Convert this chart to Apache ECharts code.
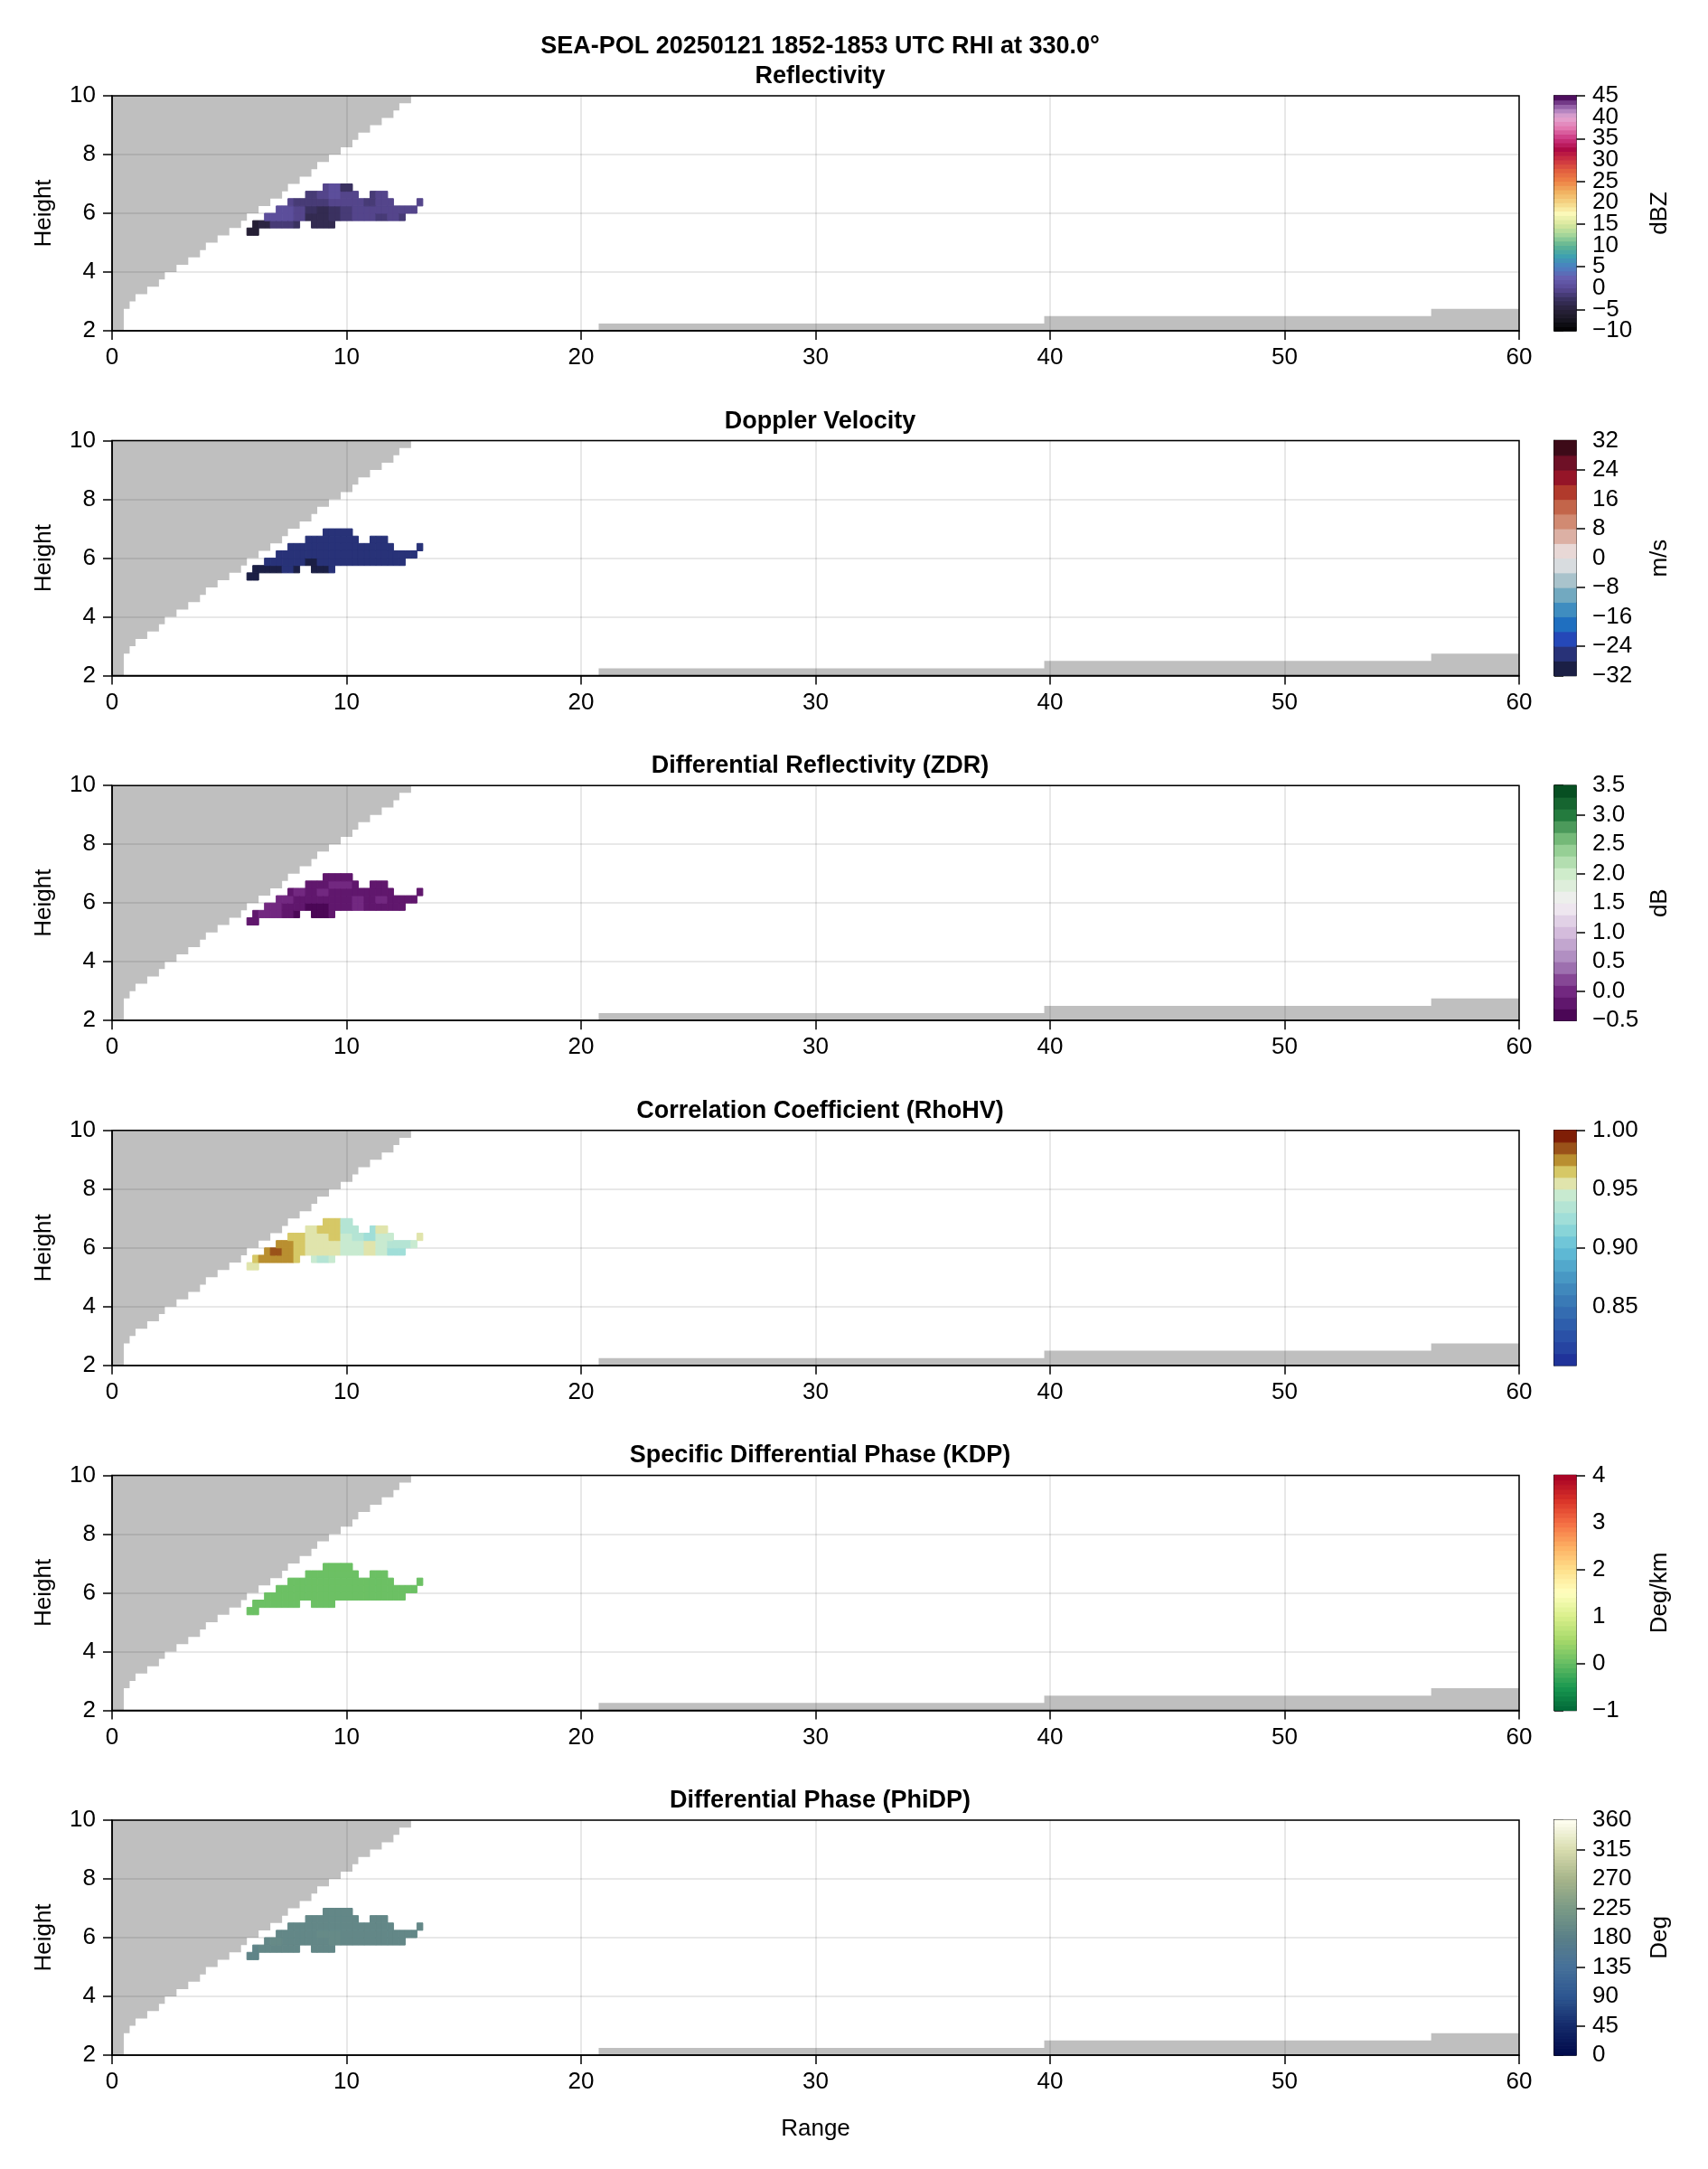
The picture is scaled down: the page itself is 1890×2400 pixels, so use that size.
<!DOCTYPE html>
<html>
<head>
<meta charset="utf-8">
<title>SEA-POL RHI 330.0</title>
<script src="https://cdn.jsdelivr.net/npm/echarts@6/dist/echarts.min.js"></script>
<style>
  html, body { margin: 0; padding: 0; background: #fff; }
  #main { width: 1890px; height: 2400px; }
</style>
</head>
<body>
<div id="main"></div>
<script>
// ---- text ----
var mainTitle = 'SEA-POL 20250121 1852-1853 UTC RHI at 330.0\u00b0';
var panelTitles = ['Reflectivity', 'Doppler Velocity', 'Differential Reflectivity (ZDR)',
    'Correlation Coefficient (RhoHV)', 'Specific Differential Phase (KDP)', 'Differential Phase (PhiDP)'];
var panelUnits = ['dBZ', 'm/s', 'dB', '', 'Deg/km', 'Deg'];

// ---- axes ----
var rangeMin = 0, rangeMax = 60, rangeStep = 10;
var heightMin = 2, heightMax = 10, heightStep = 2;
var cellSize = 0.25; // grid spacing of the gridded RHI (km)

// grey area above the top beam: per 0.25 km height row, range where the grey ends
var wedgeRowBottom = [2.0, 2.25, 2.5, 2.75, 3.0, 3.25, 3.5, 3.75, 4.0, 4.25, 4.5, 4.75, 5.0, 5.25, 5.5, 5.75,
    6.0, 6.25, 6.5, 6.75, 7.0, 7.25, 7.5, 7.75, 8.0, 8.25, 8.5, 8.75, 9.0, 9.25, 9.5, 9.75];
var wedgeEdge = [0.5, 0.5, 0.5, 0.75, 1.0, 1.5, 2.0, 2.25, 2.75, 3.25, 3.75, 4.0, 4.5, 5.0, 5.5, 5.75,
    6.25, 6.75, 7.25, 7.5, 8.0, 8.5, 8.75, 9.25, 9.75, 10.25, 10.5, 11.0, 11.5, 12.0, 12.25, 12.75];

// grey area below the lowest beam far out
var floorX = [20.75, 39.75, 56.25, 60];
var floorTop = [2.25, 2.5, 2.75];

// echo outline: per 0.25 km range column, bottom and top height
var blobColLeft = [5.75, 6.0, 6.25, 6.5, 6.75, 7.0, 7.25, 7.5, 7.75, 8.0, 8.25, 8.5, 8.75, 9.0, 9.25,
    9.5, 9.75, 10.0, 10.25, 10.5, 10.75, 11.0, 11.25, 11.5, 11.75, 12.0, 12.25, 12.5, 12.75, 13.0];
var blobBottom = [5.25, 5.25, 5.5, 5.5, 5.5, 5.5, 5.5, 5.5, 5.5, 5.75, 5.75, 5.5, 5.5, 5.5, 5.5,
    5.75, 5.75, 5.75, 5.75, 5.75, 5.75, 5.75, 5.75, 5.75, 5.75, 5.75, 5.75, 6.0, 6.0, 6.25];
var blobTop = [5.5, 5.75, 5.75, 6.0, 6.0, 6.25, 6.25, 6.5, 6.5, 6.5, 6.75, 6.75, 6.75, 7.0, 7.0,
    7.0, 7.0, 7.0, 6.75, 6.5, 6.5, 6.75, 6.75, 6.75, 6.5, 6.25, 6.25, 6.25, 6.25, 6.5];
var blobRowBottom = [5.25, 5.5, 5.75, 6.0, 6.25, 6.5, 6.75];

// field values: rows bottom->top (blobRowBottom), columns every 0.5 km from 5.75 km
var dbzGrid = [
    [-5.5, -5.5, -4.5, -3.5, -3.5, -3.5, -3.5, -3.5, -2.5, -1.5, -1.5, -1.5, -1.5, -1.5, -1.5],
    [-5.5, -4.5, -1.5, -1.5, -2.5, -3.5, -3.5, -3.5, -1.5, -1.5, -1.5, -1.5, -1.5, -1.5, -1.5],
    [-4.5, 0.5, 0.5, 0.5, -0.5, -3.5, -3.5, -2.5, -1.5, -0.5, -0.5, -1.5, -0.5, -1.5, -1.5],
    [-3.5, -0.5, 0.5, 0.5, -0.5, -2.5, -3.5, -2.5, -1.5, -0.5, -0.5, -0.5, -0.5, -0.5, -0.5],
    [-2.5, -1.5, -1.5, -0.5, -1.5, -1.5, -1.5, -0.5, -0.5, -0.5, -1.5, -0.5, -0.5, -0.5, -0.5],
    [-1.5, -1.5, -1.5, -1.5, -1.5, -1.5, -0.5, 0.5, -0.5, -0.5, -1.5, -0.5, -1.5, -1.5, -0.5],
    [-1.5, -1.5, -1.5, -1.5, -1.5, -1.5, -0.5, 0.5, -2.5, -1.5, -1.5, -1.5, -1.5, -1.5, -1.5]
];
var velGrid = [
    [-30, -30, -30, -30, -30, -30, -30, -30, -26, -26, -26, -26, -26, -26, -26],
    [-30, -30, -30, -26, -30, -30, -30, -26, -26, -26, -26, -26, -26, -26, -26],
    [-26, -26, -26, -26, -26, -30, -26, -26, -26, -26, -26, -26, -26, -26, -26],
    [-26, -26, -26, -26, -26, -26, -26, -26, -26, -26, -26, -26, -26, -26, -26],
    [-26, -26, -26, -26, -26, -26, -26, -26, -26, -26, -26, -26, -26, -26, -26],
    [-26, -26, -26, -26, -26, -26, -26, -26, -26, -26, -26, -26, -26, -26, -26],
    [-26, -26, -26, -26, -26, -26, -26, -26, -26, -26, -26, -26, -26, -26, -26]
];
var zdrGrid = [
    [-0.2, -0.2, -0.2, -0.2, -0.2, -0.2, -0.2, -0.2, -0.2, -0.2, -0.2, -0.2, -0.2, -0.2, -0.2],
    [-0.2, 0.0, 0.0, -0.2, -0.4, -0.4, -0.4, -0.2, -0.2, -0.2, -0.2, -0.2, -0.2, -0.2, -0.2],
    [-0.2, 0.0, 0.0, -0.2, -0.2, -0.4, -0.4, -0.2, -0.2, 0.0, -0.2, -0.2, -0.2, -0.2, -0.2],
    [-0.2, -0.2, 0.0, 0.0, -0.2, -0.2, -0.2, -0.2, -0.2, 0.0, -0.2, 0.0, -0.2, -0.2, -0.2],
    [-0.2, -0.2, -0.2, -0.2, 0.0, -0.2, 0.0, -0.2, -0.2, -0.2, -0.2, -0.2, -0.2, -0.2, -0.2],
    [-0.2, -0.2, -0.2, -0.2, -0.2, -0.2, -0.2, 0.0, 0.0, -0.2, -0.2, -0.2, -0.2, -0.2, -0.2],
    [-0.2, -0.2, -0.2, -0.2, -0.2, -0.2, -0.2, -0.2, -0.2, -0.2, -0.2, -0.2, -0.2, -0.2, -0.2]
];
var rhoGrid = [
    [0.955, 0.965, 0.965, 0.965, 0.955, 0.945, 0.935, 0.945, 0.945, 0.945, 0.945, 0.945, 0.935, 0.935, 0.945],
    [0.965, 0.975, 0.975, 0.975, 0.965, 0.945, 0.935, 0.945, 0.945, 0.945, 0.945, 0.945, 0.935, 0.925, 0.945],
    [0.965, 0.975, 0.985, 0.975, 0.965, 0.955, 0.955, 0.955, 0.945, 0.945, 0.955, 0.945, 0.925, 0.925, 0.945],
    [0.955, 0.975, 0.975, 0.975, 0.965, 0.955, 0.955, 0.955, 0.945, 0.945, 0.955, 0.945, 0.935, 0.935, 0.945],
    [0.955, 0.965, 0.965, 0.965, 0.965, 0.955, 0.955, 0.965, 0.945, 0.935, 0.925, 0.945, 0.945, 0.945, 0.955],
    [0.955, 0.955, 0.955, 0.955, 0.955, 0.955, 0.965, 0.965, 0.935, 0.935, 0.925, 0.955, 0.945, 0.945, 0.955],
    [0.955, 0.955, 0.955, 0.955, 0.955, 0.955, 0.965, 0.965, 0.935, 0.945, 0.945, 0.945, 0.945, 0.945, 0.945]
];
var kdpGrid = [
    [0.05, 0.05, 0.05, 0.05, 0.05, 0.05, 0.05, 0.05, 0.05, 0.05, 0.05, 0.05, 0.05, 0.05, 0.05],
    [0.05, 0.05, 0.05, 0.05, 0.05, 0.05, 0.05, 0.05, 0.05, 0.05, 0.05, 0.05, 0.05, 0.05, 0.05],
    [0.05, 0.05, 0.05, 0.05, 0.05, 0.05, 0.05, 0.05, 0.05, 0.05, 0.05, 0.05, 0.05, 0.05, 0.05],
    [0.05, 0.05, 0.05, 0.05, 0.05, 0.05, 0.05, 0.05, 0.05, 0.05, 0.05, 0.05, 0.05, 0.05, 0.05],
    [0.05, 0.05, 0.05, 0.05, 0.05, 0.05, 0.05, 0.05, 0.05, 0.05, 0.05, 0.05, 0.05, 0.05, 0.05],
    [0.05, 0.05, 0.05, 0.05, 0.05, 0.05, 0.05, 0.05, 0.05, 0.05, 0.05, 0.05, 0.05, 0.05, 0.05],
    [0.05, 0.05, 0.05, 0.05, 0.05, 0.05, 0.05, 0.05, 0.05, 0.05, 0.05, 0.05, 0.05, 0.05, 0.05]
];
var phiGrid = [
    [187.5, 187.5, 192.5, 192.5, 192.5, 187.5, 187.5, 192.5, 192.5, 192.5, 192.5, 192.5, 192.5, 192.5, 192.5],
    [187.5, 192.5, 192.5, 192.5, 192.5, 192.5, 192.5, 192.5, 192.5, 192.5, 192.5, 192.5, 192.5, 192.5, 192.5],
    [192.5, 192.5, 197.5, 192.5, 192.5, 192.5, 192.5, 197.5, 192.5, 192.5, 192.5, 192.5, 192.5, 192.5, 192.5],
    [192.5, 192.5, 192.5, 192.5, 192.5, 192.5, 197.5, 197.5, 192.5, 192.5, 192.5, 192.5, 192.5, 192.5, 192.5],
    [192.5, 192.5, 192.5, 192.5, 192.5, 192.5, 192.5, 192.5, 192.5, 192.5, 192.5, 192.5, 192.5, 192.5, 192.5],
    [192.5, 192.5, 192.5, 192.5, 192.5, 192.5, 192.5, 192.5, 192.5, 192.5, 192.5, 192.5, 192.5, 192.5, 192.5],
    [192.5, 192.5, 192.5, 192.5, 192.5, 192.5, 192.5, 192.5, 192.5, 192.5, 192.5, 192.5, 192.5, 192.5, 192.5]
];
var fieldGrids = [dbzGrid, velGrid, zdrGrid, rhoGrid, kdpGrid, phiGrid];

// ---- colour scales ----
var cbMin = [-10, -32, -0.5, 0.80, -1, 0];
var cbMax = [45, 32, 3.5, 1.00, 4, 360];
var cbBands = [55, 16, 20, 20, 50, 72];
var cbTicks = [
    [-10, -5, 0, 5, 10, 15, 20, 25, 30, 35, 40, 45],
    [-32, -24, -16, -8, 0, 8, 16, 24, 32],
    [-0.5, 0.0, 0.5, 1.0, 1.5, 2.0, 2.5, 3.0, 3.5],
    [0.85, 0.90, 0.95, 1.00],
    [-1, 0, 1, 2, 3, 4],
    [0, 45, 90, 135, 180, 225, 270, 315, 360]
];
var cbDecimals = [0, 0, 1, 2, 0, 0];

var dbzStops = [[-10, '#000000'], [-7.5, '#171520'], [-5, '#28223a'], [-2.5, '#3a3160'], [0, '#5a4a96'],
    [2.5, '#6660b0'], [5, '#4a80c2'], [7.5, '#3ea0b0'], [10, '#5fb492'], [12.5, '#a4d59a'], [15, '#d9e89d'],
    [17.5, '#fbf9b9'], [20, '#f5d585'], [22.5, '#f1b262'], [25, '#ee8446'], [27.5, '#e2603f'], [30, '#cd3341'],
    [32.5, '#ae0a45'], [35, '#cc3580'], [37.5, '#e278b0'], [40, '#e5a8d2'], [41.5, '#b585c0'], [43, '#86509c'],
    [44.5, '#4e0f5e'], [45, '#3c0850']];
var velStops = [[-30, '#1b1f45'], [-26, '#283278'], [-22, '#2548b8'], [-18, '#1f6fc0'], [-14, '#3f8dc0'],
    [-10, '#72a9c0'], [-6, '#a9c3cc'], [-2, '#d8dcdf'], [2, '#e8d8d6'], [6, '#dcb0a4'], [10, '#d18a72'],
    [14, '#c3654a'], [18, '#b13a2c'], [22, '#951528'], [26, '#6e1026'], [30, '#3d0a18']];
var zdrStops = [[-0.5, '#40004b'], [-0.1, '#6a1e78'], [0.1, '#7a3288'], [0.5, '#a884bc'], [1.0, '#d4bcdc'],
    [1.5, '#f4f0f4'], [2.0, '#cfeccb'], [2.5, '#88c887'], [3.0, '#247b3e'], [3.5, '#00441b']];
var rhoStops = [[0.805, '#20339a'], [0.815, '#2644a1'], [0.825, '#2a51a7'], [0.835, '#2e5eac'], [0.845, '#346cb1'],
    [0.855, '#3a7ab6'], [0.865, '#4088bc'], [0.875, '#4898c4'], [0.885, '#52a8cc'], [0.895, '#5eb8d4'],
    [0.905, '#70c6d8'], [0.915, '#88d4d8'], [0.925, '#a0ded8'], [0.935, '#b4e4d4'], [0.945, '#c8ead0'],
    [0.955, '#e0e4ac'], [0.965, '#d6c866'], [0.975, '#b98f30'], [0.985, '#9a5219'], [0.995, '#7f1e06']];
var kdpStops = [[-1, '#006837'], [-0.5, '#1a9850'], [0, '#66bd63'], [0.5, '#a6d96a'], [1, '#d9ef8b'],
    [1.5, '#ffffbf'], [2, '#fee08b'], [2.5, '#fdae61'], [3, '#f46d43'], [3.5, '#d73027'], [4, '#a50026']];
var phiStops = [[0, '#00094a'], [45, '#142a6a'], [90, '#2d5690'], [135, '#46709a'], [180, '#5a7f88'],
    [225, '#7a9a86'], [270, '#a6b48a'], [315, '#d8dcae'], [360, '#fffff2']];
var cbStops = [dbzStops, velStops, zdrStops, rhoStops, kdpStops, phiStops];

// ---- layout ----
var fontFam = 'Liberation Sans, Arial, Helvetica, sans-serif';
var plotLeft = 124, plotWidth = 1557, plotHeight = 260, firstTop = 106, panelStep = 381.6;
var cbLeft = 1720, cbWidth = 24;
var titleX = plotLeft + plotWidth / 2;
var greyFill = 'rgba(0,0,0,0.25)';

function hexRgb(h) {
    return [parseInt(h.substr(1, 2), 16), parseInt(h.substr(3, 2), 16), parseInt(h.substr(5, 2), 16)];
}
function interpColor(stops, v) {
    if (v <= stops[0][0]) return stops[0][1];
    for (var k = 1; k < stops.length; k++) {
        if (v <= stops[k][0]) {
            var t = (v - stops[k - 1][0]) / (stops[k][0] - stops[k - 1][0]);
            var a = hexRgb(stops[k - 1][1]), b = hexRgb(stops[k][1]);
            return 'rgb(' + Math.round(a[0] + (b[0] - a[0]) * t) + ',' +
                Math.round(a[1] + (b[1] - a[1]) * t) + ',' + Math.round(a[2] + (b[2] - a[2]) * t) + ')';
        }
    }
    return stops[stops.length - 1][1];
}
function bandStep(p) { return (cbMax[p] - cbMin[p]) / cbBands[p]; }
function bandIndex(p, v) {
    var i = Math.floor((v - cbMin[p]) / bandStep(p) + 1e-9);
    return Math.max(0, Math.min(cbBands[p] - 1, i));
}
function bandColor(p, i) { return interpColor(cbStops[p], cbMin[p] + (i + 0.5) * bandStep(p)); }
function fmt(v, d) { return v.toFixed(d).replace('-', '\u2212'); }

function blobCells(g) {
    var cells = [];
    for (var i = 0; i < blobColLeft.length; i++) {
        for (var r = 0; r < blobRowBottom.length; r++) {
            var y0 = blobRowBottom[r];
            if (y0 < blobBottom[i] || y0 >= blobTop[i]) continue;
            cells.push([blobColLeft[i], blobColLeft[i] + cellSize, y0, y0 + cellSize, g[r][Math.floor(i / 2)]]);
        }
    }
    return cells;
}

function rectRender(colorOf) {
    return function (params, api) {
        var p0 = api.coord([api.value(0), api.value(2)]);
        var p1 = api.coord([api.value(1), api.value(3)]);
        var c = colorOf(api.value(4));
        return {
            type: 'rect',
            shape: { x: p0[0], y: p1[1], width: p1[0] - p0[0], height: p0[1] - p1[1] },
            style: { fill: c, stroke: c, lineWidth: 1 }
        };
    };
}

function wedgeRender(params, api) {
    var pts = [api.coord([rangeMin, wedgeRowBottom[0]])];
    for (var k = 0; k < wedgeEdge.length; k++) {
        pts.push(api.coord([wedgeEdge[k], wedgeRowBottom[k]]));
        pts.push(api.coord([wedgeEdge[k], wedgeRowBottom[k] + cellSize]));
    }
    pts.push(api.coord([rangeMin, heightMax]));
    return { type: 'polygon', shape: { points: pts }, style: { fill: greyFill } };
}

function floorRender(params, api) {
    var pts = [api.coord([floorX[0], heightMin])];
    for (var j = 0; j < floorTop.length; j++) {
        pts.push(api.coord([floorX[j], floorTop[j]]));
        pts.push(api.coord([floorX[j + 1], floorTop[j]]));
    }
    pts.push(api.coord([floorX[floorX.length - 1], heightMin]));
    return { type: 'polygon', shape: { points: pts }, style: { fill: greyFill } };
}

var titles = [{
    text: mainTitle, left: titleX, top: 33, textAlign: 'center',
    textStyle: { fontSize: 27, fontWeight: 'bold', color: '#000', fontFamily: fontFam }
}];
var grids = [], xAxes = [], yAxes = [], series = [];
var lineBlack = { color: '#000', width: 1.5 };
var tickLabel = { fontSize: 26, color: '#000', fontFamily: fontFam };

// colour bar ticks are split over two overlaid axes (alternate ticks) so that
// ECharts' min/max label overlap check does not drop any of them
function cbAxis(p, gridIdx, part) {
    var vals = cbTicks[p].filter(function (v, k) { return k % 2 === part; });
    return {
        type: 'value', gridIndex: gridIdx, position: 'right', min: cbMin[p], max: cbMax[p],
        axisLine: { show: part === 0, lineStyle: lineBlack },
        axisTick: { show: true, length: 10, lineStyle: lineBlack, customValues: vals },
        axisLabel: Object.assign({ margin: 18, customValues: vals, showMinLabel: true, showMaxLabel: true,
            formatter: function (v) { return fmt(v, cbDecimals[p]); } }, tickLabel),
        splitLine: { show: false },
        name: part === 0 ? panelUnits[p] : '', nameLocation: 'middle', nameGap: 80, nameRotate: 90,
        nameTextStyle: { fontSize: 26, color: '#000', fontFamily: fontFam }
    };
}

for (var p = 0; p < 6; p++) {
    (function (p) {
        var top = firstTop + p * panelStep;
        var gPlot = grids.length, gCb = gPlot + 1;
        titles.push({
            text: panelTitles[p], left: titleX, top: top - 40, textAlign: 'center',
            textStyle: { fontSize: 27, fontWeight: 'bold', color: '#000', fontFamily: fontFam }
        });
        grids.push({ left: plotLeft, top: top, width: plotWidth, height: plotHeight, show: true,
            borderColor: '#000', borderWidth: 1.5, backgroundColor: 'rgba(0,0,0,0)', outerBoundsMode: 'none' });
        grids.push({ left: cbLeft, top: top, width: cbWidth, height: plotHeight, show: true,
            borderColor: '#000', borderWidth: 1.5, backgroundColor: 'rgba(0,0,0,0)', outerBoundsMode: 'none' });

        var xPlot = xAxes.length;
        xAxes.push({
            type: 'value', gridIndex: gPlot, min: rangeMin, max: rangeMax, interval: rangeStep,
            axisLine: { show: true, onZero: false, lineStyle: lineBlack },
            axisTick: { show: true, length: 10, lineStyle: lineBlack },
            axisLabel: Object.assign({ margin: 17 }, tickLabel),
            splitLine: { show: true, lineStyle: { color: 'rgba(0,0,0,0.12)', width: 1.5 } },
            name: p === 5 ? 'Range' : '', nameLocation: 'middle', nameGap: 69,
            nameTextStyle: { fontSize: 26, color: '#000', fontFamily: fontFam }
        });
        var xCb = xAxes.length;
        xAxes.push({ type: 'value', gridIndex: gCb, min: 0, max: 1, show: false });

        var yPlot = yAxes.length;
        yAxes.push({
            type: 'value', gridIndex: gPlot, min: heightMin, max: heightMax, interval: heightStep,
            axisLine: { show: true, onZero: false, lineStyle: lineBlack },
            axisTick: { show: true, length: 10, lineStyle: lineBlack },
            axisLabel: Object.assign({ margin: 18 }, tickLabel),
            splitLine: { show: true, lineStyle: { color: 'rgba(0,0,0,0.12)', width: 1.5 } },
            name: 'Height', nameLocation: 'middle', nameGap: 62, nameRotate: 90,
            nameTextStyle: { fontSize: 26, color: '#000', fontFamily: fontFam }
        });
        var yCb = yAxes.length;
        yAxes.push(cbAxis(p, gCb, 0));
        yAxes.push(cbAxis(p, gCb, 1));

        series.push({
            type: 'custom', xAxisIndex: xPlot, yAxisIndex: yPlot, silent: true, z: 2,
            data: [[rangeMin, heightMin]], renderItem: wedgeRender
        });
        series.push({
            type: 'custom', xAxisIndex: xPlot, yAxisIndex: yPlot, silent: true, z: 2,
            data: [[rangeMin, heightMin]], renderItem: floorRender
        });
        series.push({
            type: 'custom', xAxisIndex: xPlot, yAxisIndex: yPlot, silent: true, z: 3,
            data: blobCells(fieldGrids[p]),
            renderItem: rectRender(function (v) { return bandColor(p, bandIndex(p, v)); })
        });
        var bands = [];
        for (var i = 0; i < cbBands[p]; i++) {
            bands.push([0, 1, cbMin[p] + i * bandStep(p), cbMin[p] + (i + 1) * bandStep(p), i]);
        }
        series.push({
            type: 'custom', xAxisIndex: xCb, yAxisIndex: yCb, silent: true, z: 2,
            data: bands,
            renderItem: rectRender(function (i) { return bandColor(p, i); })
        });
    })(p);
}

var chart = echarts.init(document.getElementById('main'), null, { renderer: 'canvas' });
chart.setOption({
    animation: false,
    backgroundColor: '#ffffff',
    textStyle: { fontFamily: fontFam, color: '#000' },
    title: titles,
    grid: grids,
    xAxis: xAxes,
    yAxis: yAxes,
    series: series
});
</script>
</body>
</html>
